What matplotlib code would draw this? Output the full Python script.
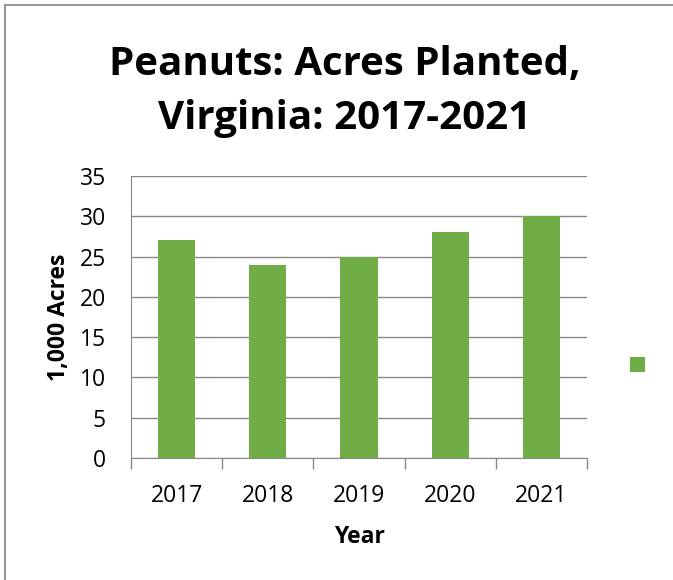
import matplotlib
matplotlib.use("Agg")
import matplotlib.pyplot as plt
from matplotlib.lines import Line2D
from matplotlib.patches import Rectangle

years = ["2017", "2018", "2019", "2020", "2021"]
acres = [27, 24, 25, 28, 30]
yticks = [0, 5, 10, 15, 20, 25, 30, 35]

plt.rcParams['font.family'] = ['Open Sans', 'DejaVu Sans']
green = "#70AD47"

W, H = 673, 580
fig = plt.figure(figsize=(W/100, H/100), dpi=100)
ax = fig.add_axes([131/W, 1-458/H, (587-131)/W, (458-176)/H])

x = list(range(len(years)))
ax.bar(x, acres, width=0.41, color=green, zorder=3)
ax.set_xlim(-0.5, len(years)-0.5)
ax.set_ylim(0, 35)
ax.set_yticks(yticks)
ax.set_yticklabels([str(v) for v in yticks], fontsize=16.5)
ax.set_xticks(x)
ax.set_xticklabels(years, fontsize=16.5)
ax.tick_params(axis='y', length=0, pad=18)
ax.tick_params(axis='x', length=0, pad=19)
# category boundary ticks
ax.set_xticks([i - 0.5 for i in range(len(years)+1)], minor=True)
ax.tick_params(axis='x', which='minor', length=8, color='#888888', width=1, direction='out')
ax.grid(axis='y', color='#888888', linewidth=1, zorder=0)
for s in ['top', 'right']:
    ax.spines[s].set_visible(False)
ax.spines['left'].set_color('#888888')
ax.spines['bottom'].set_color('#888888')

ax.set_xlabel("Year", fontsize=16.5, fontweight='bold', labelpad=12)
ax.set_ylabel("1,000 Acres", fontsize=16.5, fontweight='bold', labelpad=6)

fig.text(345/W, 1-65/H, "Peanuts: Acres Planted,", ha='center', va='center',
         fontsize=29, fontweight='bold')
fig.text(345/W, 1-118/H, "Virginia: 2017-2021", ha='center', va='center',
         fontsize=29, fontweight='bold')

# legend marker
fig.patches.append(Rectangle((630/W, 1-372/H), 15/W, 15/H, transform=fig.transFigure,
                             facecolor=green, edgecolor='none'))

# chart border (top and left visible)
fig.add_artist(Line2D([5/W, 1], [1-5/H, 1-5/H], transform=fig.transFigure, color='#999999', linewidth=1.5))
fig.add_artist(Line2D([5/W, 5/W], [0, 1-5/H], transform=fig.transFigure, color='#999999', linewidth=1.5))

fig.savefig("out.png", dpi=100)
